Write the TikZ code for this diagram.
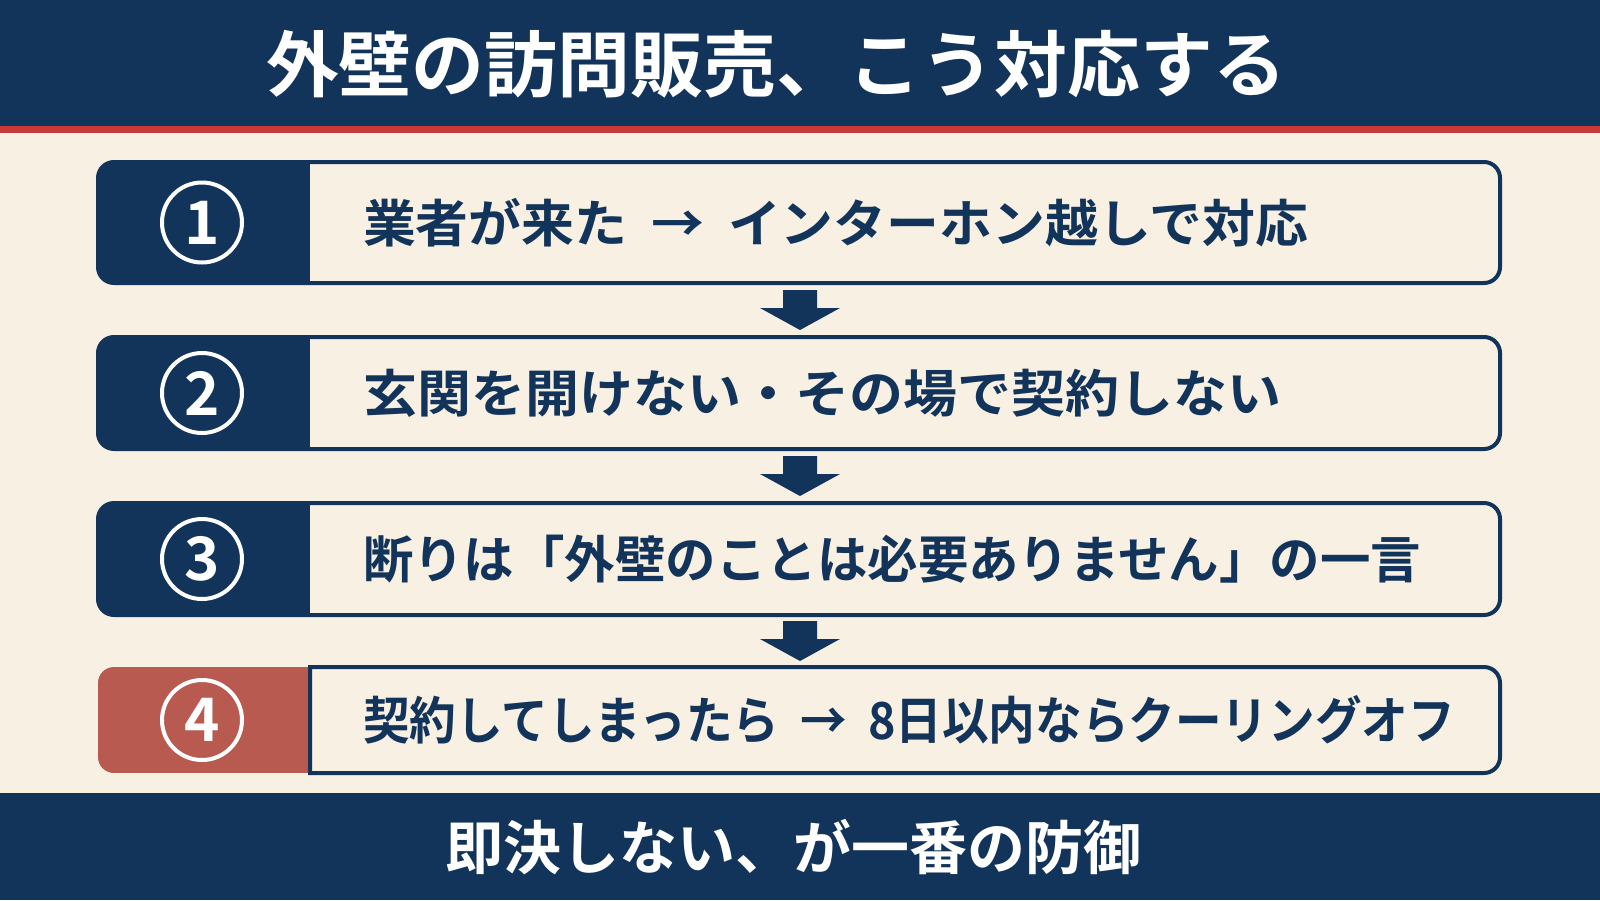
\documentclass[tikz,border=0pt]{standalone}
\usepackage{graphicx}
\usepackage{fontspec}
\setmainfont{Noto Sans CJK JP}[BoldFont={* Bold}]
\usetikzlibrary{calc}
\definecolor{navy}{HTML}{13345A}
\definecolor{redline}{HTML}{C8393A}
\definecolor{cream}{HTML}{F7F0E3}
\definecolor{boxred}{HTML}{B85A50}
\newcommand{\fitw}[2]{\resizebox{#1}{\height}{#2}}
\tikzset{
  every node/.style={inner sep=0pt, outer sep=0pt},
  stepbox/.style={minimum width=1402pt, minimum height=#1, draw=none},
  steptext/.style={anchor=west, text=navy, font=\bfseries\fontsize{51}{58}\selectfont},
  numcircle/.style={circle, draw=white, line width=4pt, minimum size=80pt, text=white, font=\bfseries\fontsize{60}{64}\selectfont},
  boxborder/.style={draw=navy, line width=4pt, rounded corners=16pt},
  blockarrow/.style={fill=navy}
}
\begin{document}
\begin{tikzpicture}[x=1pt, y=-1pt]
\useasboundingbox (0,0) rectangle (1600,900);
\fill[cream] (0,0) rectangle (1600,900);
% header
\fill[navy] (0,0) rectangle (1600,126);
\fill[redline] (0,126) rectangle (1600,133);
\node[text=white, font=\bfseries\fontsize{72}{80}\selectfont] (title) at (776,64) {\fitw{1020pt}{外壁の訪問販売、こう対応する}};
% footer
\fill[navy] (0,793) rectangle (1600,900);
\node[text=white, font=\bfseries\fontsize{58}{64}\selectfont] (footer) at (793,847) {即決しない、が一番の防御};

% boxes
\node[stepbox=121pt] (b1) at (799,222.5) {};
\node[stepbox=112pt] (b2) at (799,393) {};
\node[stepbox=112pt] (b3) at (799,559) {};
\node[stepbox=106pt] (b4) at (799,720) {};

\foreach \b in {b1,b2,b3}{
  \fill[cream, rounded corners=16pt] (\b.north west) rectangle (\b.south east);
  \begin{scope}
    \clip[rounded corners=16pt] (\b.north west) rectangle (\b.south east);
    \fill[navy] (\b.north west) rectangle ($(\b.south west)+(212,0)$);
  \end{scope}
  \draw[boxborder] (\b.north west) rectangle (\b.south east);
}
% box 4
\fill[cream, rounded corners=16pt] (b4.north west) rectangle (b4.south east);
\begin{scope}
  \clip[rounded corners=16pt] (b4.north west) rectangle (b4.south east);
  \fill[boxred] (b4.north west) rectangle ($(b4.south west)+(212,0)$);
\end{scope}
\draw[draw=navy, line width=4pt] ($(b4.north west)+(212,0)$) [rounded corners=16pt] -- (b4.north east) -- (b4.south east) [sharp corners] -- ($(b4.south west)+(212,0)$) -- cycle;

% numbers
\node[numcircle] (n1) at ($(b1.west)+(104,0)$) {1};
\node[numcircle] (n2) at ($(b2.west)+(104,0)$) {2};
\node[numcircle] (n3) at ($(b3.west)+(104,0)$) {3};
\node[numcircle] (n4) at ($(b4.west)+(104,0)$) {4};

% texts
\node[steptext] (t1) at ($(b1.west)+(265,0)$) {\fitw{945pt}{業者が来た\ \ →\ \ インターホン越しで対応}};
\node[steptext] (t2) at ($(b2.west)+(265,0)$) {\fitw{918pt}{玄関を開けない・その場で契約しない}};
\node[steptext] (t3) at ($(b3.west)+(265,0)$) {\fitw{1058pt}{断りは「外壁のことは必要ありません」の一言}};
\node[steptext] (t4) at ($(b4.west)+(265,0)$) {\fitw{1092pt}{契約してしまったら\ \ →\ \ 8日以内ならクーリングオフ}};

% arrows
\foreach \a/\c in {b1/b2,b2/b3,b3/b4}{
  \coordinate (m) at ($(\a.south)!0.5!(\c.north)+(1,0)$);
  \fill[blockarrow] ($(m)+(-17,-20)$) -- ($(m)+(17,-20)$) -- ($(m)+(17,-2)$) -- ($(m)+(40,-2)$) -- ($(m)+(0,20)$) -- ($(m)+(-40,-2)$) -- ($(m)+(-17,-2)$) -- cycle;
}
\end{tikzpicture}
\end{document}
